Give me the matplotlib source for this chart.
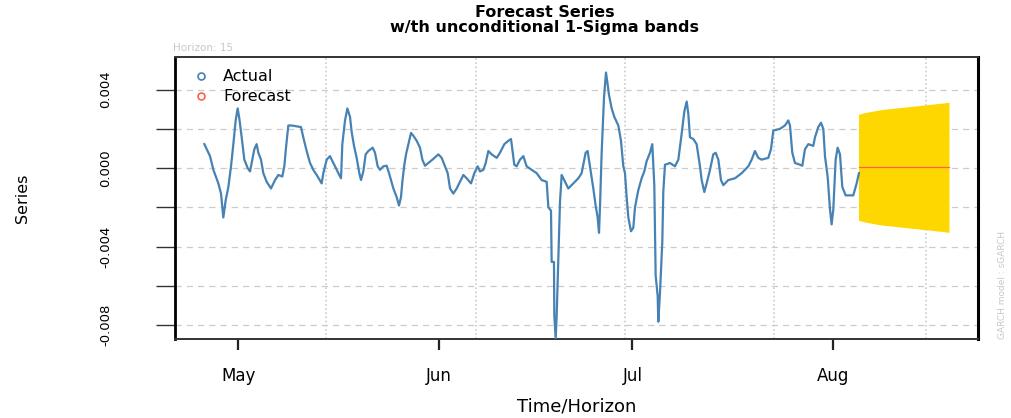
import numpy as np
import matplotlib
matplotlib.use("Agg")
import matplotlib.pyplot as plt

# actual series: days since 1 May, value
actual_day = [-5.26, -4.38, -3.86, -3.09, -2.68, -2.32, -1.96, -1.54, -1.13, -0.77,
              -0.41, -0.10, 0.16, 0.52, 0.93, 1.45, 1.81, 2.17, 2.48, 2.84,
              3.10, 3.51, 3.87, 4.39, 5.06, 5.68, 6.20, 6.81, 7.12, 7.38,
              7.74, 8.26, 9.70, 10.12, 10.58, 11.10, 11.61, 12.28, 12.90, 13.16,
              13.68, 14.19, 14.45, 14.97, 15.48, 15.90, 16.10, 16.52, 16.88, 17.29,
              17.55, 17.91, 18.32, 18.73, 18.99, 19.35, 19.71, 20.13, 20.80, 21.16,
              21.57, 21.93, 22.45, 22.96, 23.33, 23.63, 24.00, 24.51, 24.87, 25.18,
              25.39, 25.70, 25.96, 26.32, 26.73, 27.09, 27.61, 28.12, 28.49, 28.90,
              29.41, 30.19, 30.96, 31.48, 31.99, 32.41, 32.77, 33.28, 33.80, 34.31,
              34.83, 35.35, 36.02, 36.53, 37.05, 37.41, 37.93, 38.29, 38.70, 39.21,
              39.99, 40.50, 41.18, 41.79, 42.21, 42.72, 43.08, 43.60, 44.12, 44.63,
              45.41, 46.18, 46.95, 47.73, 47.99, 48.40, 48.50, 48.86, 48.91, 49.12,
              49.28, 49.53, 49.79, 50.05, 50.31, 51.08, 51.85, 52.63, 53.14, 53.40,
              53.76, 54.07, 54.59, 54.95, 55.31, 55.62, 55.83, 55.98, 56.24, 56.60,
              56.91, 57.17, 57.37, 57.79, 58.20, 58.82, 59.23, 59.59, 59.85, 60.11,
              60.37, 60.78, 61.14, 61.40, 61.91, 62.43, 62.84, 63.20, 63.72, 64.08,
              64.39, 64.60, 64.91, 65.01, 65.27, 65.63, 65.78, 66.04, 66.82, 67.59,
              68.11, 68.62, 69.03, 69.40, 69.65, 69.91, 70.43, 70.94, 71.46, 71.72,
              72.13, 72.49, 73.01, 73.52, 73.88, 74.30, 74.71, 75.07, 75.84, 76.88,
              77.91, 78.94, 79.46, 79.97, 80.49, 81.00, 82.03, 82.45, 82.81, 83.84,
              84.61, 85.13, 85.39, 85.75, 86.16, 86.94, 87.30, 87.71, 88.23, 89.00,
              89.26, 89.77, 90.19, 90.55, 90.81, 91.22, 91.58, 91.84, 92.10, 92.46,
              92.77, 93.13, 93.49, 94.00, 95.19, 95.71, 96.07]
actual_val = [0.00122, 0.00061, -0.00009, -0.00078, -0.00130, -0.00252, -0.00165, -0.00096, 0.00009, 0.00122,
              0.00243, 0.00304, 0.00252, 0.00157, 0.00043, 0.00000, -0.00017, 0.00043, 0.00096, 0.00122,
              0.00078, 0.00043, -0.00026, -0.00070, -0.00104, -0.00061, -0.00035, -0.00043, 0.00009, 0.00104,
              0.00217, 0.00217, 0.00209, 0.00148, 0.00087, 0.00026, -0.00009, -0.00043, -0.00078, -0.00026,
              0.00043, 0.00061, 0.00043, 0.00009, -0.00026, -0.00052, 0.00122, 0.00243, 0.00304, 0.00261,
              0.00183, 0.00113, 0.00052, -0.00026, -0.00061, -0.00017, 0.00070, 0.00087, 0.00104, 0.00078,
              0.00009, -0.00009, 0.00009, 0.00012, -0.00026, -0.00061, -0.00104, -0.00148, -0.00191, -0.00148,
              -0.00070, 0.00017, 0.00070, 0.00122, 0.00179, 0.00165, 0.00139, 0.00104, 0.00043, 0.00012,
              0.00026, 0.00047, 0.00070, 0.00052, 0.00009, -0.00026, -0.00104, -0.00130, -0.00104, -0.00070,
              -0.00035, -0.00052, -0.00078, -0.00026, 0.00009, -0.00017, -0.00009, 0.00026, 0.00087, 0.00070,
              0.00052, 0.00078, 0.00122, 0.00139, 0.00148, 0.00017, 0.00009, 0.00043, 0.00061, 0.00009,
              -0.00009, -0.00026, -0.00061, -0.00070, -0.00200, -0.00217, -0.00478, -0.00478, -0.00748, -0.00870,
              -0.00748, -0.00461, -0.00174, -0.00035, -0.00052, -0.00104, -0.00078, -0.00052, -0.00026, 0.00017,
              0.00078, 0.00087, -0.00026, -0.00104, -0.00191, -0.00252, -0.00330, -0.00200, 0.00078, 0.00357,
              0.00487, 0.00426, 0.00374, 0.00304, 0.00261, 0.00217, 0.00139, 0.00009, -0.00026, -0.00148,
              -0.00252, -0.00322, -0.00304, -0.00200, -0.00113, -0.00052, -0.00017, 0.00035, 0.00078, 0.00122,
              -0.00087, -0.00548, -0.00652, -0.00783, -0.00635, -0.00374, -0.00122, 0.00017, 0.00026, 0.00009,
              0.00043, 0.00174, 0.00287, 0.00339, 0.00278, 0.00157, 0.00148, 0.00122, 0.00009, -0.00061,
              -0.00122, -0.00078, -0.00009, 0.00070, 0.00078, 0.00043, -0.00061, -0.00087, -0.00061, -0.00052,
              -0.00026, 0.00009, 0.00043, 0.00087, 0.00052, 0.00043, 0.00052, 0.00096, 0.00191, 0.00200,
              0.00217, 0.00243, 0.00217, 0.00078, 0.00026, 0.00017, 0.00012, 0.00096, 0.00122, 0.00113,
              0.00157, 0.00209, 0.00231, 0.00200, 0.00060, -0.00043, -0.00209, -0.00287, -0.00209, 0.00043,
              0.00104, 0.00070, -0.00096, -0.00139, -0.00139, -0.00078, -0.00026]

# 15-step forecast
fc_day = list(range(96, 111))
fc_mean = [0.00004] * 15
fc_sigma = [0.00270, 0.00279, 0.00285, 0.00291, 0.00296, 0.00299, 0.00303, 0.00306,
            0.00310, 0.00313, 0.00317, 0.00320, 0.00324, 0.00327, 0.00332]

month_day = [0, 31, 61, 92]
month_lab = ["May", "Jun", "Jul", "Aug"]
vgrid_day = [13.5, 36.8, 59.9, 82.9, 106.4]

fc_day = np.array(fc_day)
fc_mean = np.array(fc_mean)
fc_sigma = np.array(fc_sigma)

fig = plt.figure(figsize=(10.11, 4.18), dpi=100)
ax = fig.add_axes([0.1731, 0.189, 0.7943, 0.6746])

ax.fill_between(fc_day, fc_mean - fc_sigma, fc_mean + fc_sigma, color="#FFD700", lw=0, zorder=2)
ax.plot(actual_day, actual_val, color="steelblue", lw=1.6, zorder=3)
ax.plot(fc_day, fc_mean, color="tomato", lw=0.9, zorder=4)

# grid
for v in np.arange(-0.008, 0.0041, 0.002):
    ax.axhline(v, color="#cccccc", ls=(0, (5, 4)), lw=0.9, zorder=1)
for d in vgrid_day:
    ax.axvline(d, color="#cccccc", ls=(0, (1, 1.5)), lw=1.2, zorder=1)

ax.set_xlim(-9.8, 114.5)
ax.set_ylim(-0.00871, 0.00566)

yt = np.arange(-0.008, 0.0041, 0.002)
ax.set_yticks(yt)
ax.set_yticklabels(["%.3f" % v if i % 2 == 0 else "" for i, v in enumerate(yt)],
                   rotation=90, va="center", fontsize=9.5)
ax.tick_params(axis="y", length=14, width=1.0, pad=31, color="#333333")
ax.set_xticks(month_day)
ax.set_xticklabels(month_lab, fontsize=12)
ax.tick_params(axis="x", length=8, width=1.6, pad=12, color="#222222")

for s in ["top", "bottom"]:
    ax.spines[s].set_color("#333333")
    ax.spines[s].set_linewidth(1.4)
ax.spines["right"].set_color("black")
ax.spines["right"].set_linewidth(2.2)
ax.spines["left"].set_linestyle((0, (1, 1)))
ax.spines["left"].set_linewidth(2.0)

ax.set_ylabel("Series", fontsize=11.5, labelpad=50)
ax.set_xlabel("Time/Horizon", fontsize=13, labelpad=9)

fig.text(0.539, 0.97, "Forecast Series", ha="center", va="center",
         fontsize=11.5, fontweight="bold")
fig.text(0.539, 0.935, "w/th unconditional 1-Sigma bands", ha="center", va="center",
         fontsize=11.5, fontweight="bold")
fig.text(0.171, 0.885, "Horizon: 15", ha="left", va="center", fontsize=7.5, color="#c8c8c8")
fig.text(0.992, 0.189, "GARCH model : sGARCH", rotation=90, ha="center", va="bottom",
         fontsize=6.5, color="#c8c8c8")

# legend
h1, = ax.plot([], [], ls="none", marker="o", mfc="none", mec="steelblue", ms=5, mew=1.2)
h2, = ax.plot([], [], ls="none", marker="o", mfc="none", mec="tomato", ms=5, mew=1.2)
ax.legend([h1, h2], ["Actual", "Forecast"], loc="upper left", frameon=False,
          fontsize=11.5, handletextpad=0.4, borderaxespad=0.2, labelspacing=0.3,
          bbox_to_anchor=(0.0, 0.99))

fig.savefig("out.png", dpi=100)
